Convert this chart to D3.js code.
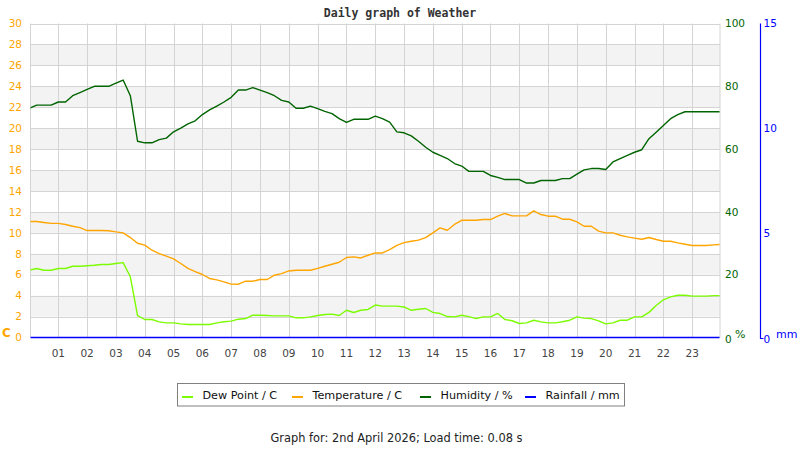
<!DOCTYPE html>
<html>
<head>
<meta charset="utf-8">
<script src="https://cdn.jsdelivr.net/npm/d3@7"></script>
<style>
  html, body { margin: 0; padding: 0; background: #fff; }
  svg { display: block; }
</style>
</head>
<body>
<svg id="chart" width="800" height="450"></svg>
<script>
// ---- data ----
const hours = [0,0.25,0.5,0.75,1,1.25,1.5,1.75,2,2.25,2.5,2.75,3,3.25,3.5,3.75,4,4.25,4.5,4.75,5,5.25,5.5,5.75,6,6.25,6.5,6.75,7,7.25,7.5,7.75,8,8.25,8.5,8.75,9,9.25,9.5,9.75,10,10.25,10.5,10.75,11,11.25,11.5,11.75,12,12.25,12.5,12.75,13,13.25,13.5,13.75,14,14.25,14.5,14.75,15,15.25,15.5,15.75,16,16.25,16.5,16.75,17,17.25,17.5,17.75,18,18.25,18.5,18.75,19,19.25,19.5,19.75,20,20.25,20.5,20.75,21,21.25,21.5,21.75,22,22.25,22.5,22.75,23,23.25,23.5,23.75,23.95];

const humidity = [73,74,74,74,75,75,77,78,79,80,80,80,81,82,77,62.5,62,62,63,63.5,65.5,66.7,68,69,71,72.5,73.7,75,76.5,78.8,78.8,79.6,78.8,78,77,75.5,75,73,73,73.7,72.9,72,71.3,69.7,68.5,69.5,69.5,69.5,70.5,69.7,68.6,65.5,65.2,64.2,62.5,60.6,59,58,57,55.4,54.6,52.9,52.9,52.9,51.6,51,50.3,50.3,50.3,49.2,49.2,50,50,50,50.6,50.6,52,53.4,53.8,53.8,53.5,55.9,57,58,59,59.8,63.3,65.4,67.5,69.7,71,71.9,71.9,71.9,71.9,71.9,71.9];

const temperature = [11.08,11.08,10.99,10.9,10.9,10.8,10.63,10.5,10.22,10.22,10.22,10.2,10.09,10.0,9.55,9.0,8.82,8.34,8.02,7.77,7.51,7.07,6.6,6.3,6.02,5.64,5.5,5.31,5.1,5.09,5.38,5.38,5.54,5.54,5.95,6.1,6.36,6.43,6.43,6.43,6.6,6.81,7.0,7.19,7.64,7.7,7.6,7.86,8.08,8.08,8.4,8.8,9.07,9.2,9.3,9.55,10.0,10.47,10.25,10.8,11.2,11.2,11.2,11.27,11.27,11.59,11.85,11.62,11.62,11.62,12.1,11.75,11.59,11.59,11.3,11.3,11.05,10.63,10.63,10.16,10.0,10.0,9.77,9.61,9.5,9.39,9.55,9.36,9.2,9.2,9.04,8.91,8.79,8.79,8.79,8.85,8.88];

const dewPoint = [6.43,6.59,6.43,6.43,6.59,6.59,6.81,6.81,6.85,6.9,6.97,6.97,7.07,7.15,5.8,2.1,1.72,1.72,1.49,1.4,1.4,1.3,1.24,1.24,1.24,1.24,1.4,1.5,1.56,1.75,1.81,2.13,2.13,2.1,2.07,2.07,2.07,1.88,1.88,1.97,2.1,2.2,2.23,2.1,2.6,2.39,2.6,2.68,3.1,3.0,3.0,3.0,2.92,2.6,2.7,2.77,2.4,2.29,2.0,1.97,2.13,2.0,1.81,1.97,1.97,2.3,1.72,1.6,1.34,1.4,1.65,1.49,1.4,1.4,1.5,1.65,1.97,1.85,1.81,1.59,1.3,1.4,1.65,1.65,1.97,1.97,2.4,3.05,3.6,3.88,4.04,4.04,3.95,3.95,3.95,4.0,4.0];

const rainfall = [0,0];
const rainHours = [0,23.95];

const hourLabels = ["01","02","03","04","05","06","07","08","09","10","11","12","13","14","15","16","17","18","19","20","21","22","23"];
const tempTicks = [0,2,4,6,8,10,12,14,16,18,20,22,24,26,28,30];
const humTicks = [0,20,40,60,80,100];
const rainTicks = [0,5,10,15];
const legendItems = ["Dew Point / C","Temperature / C","Humidity / %","Rainfall / mm"];
const titleText = "Daily graph of Weather";
const footerText = "Graph for: 2nd April 2026; Load time: 0.08 s";

// ---- drawing ----
const colors = { dew: "#7cfc00", temp: "#ffa500", hum: "#006400", rain: "#0000ff" };
const svg = d3.select("#chart");
const L = 30.5, R = 720, T = 23.5, B = 337.5;

const x = d3.scaleLinear().domain([0, 24]).range([29.5, 721]);
const yT = d3.scaleLinear().domain([0, 30]).range([B, T]);
const yH = d3.scaleLinear().domain([0, 100]).range([B, T]);
const yR = d3.scaleLinear().domain([0, 15]).range([B, T]);

svg.append("defs").append("clipPath").attr("id", "clip")
  .append("rect").attr("x", L).attr("y", T - 2).attr("width", R - L).attr("height", B - T + 4);

// bands
const bands = tempTicks.filter(v => v < 30 && (v / 2) % 2 === 1);
svg.append("g").selectAll("rect").data(bands).join("rect")
  .attr("x", L).attr("width", R - L)
  .attr("y", d => yT(d + 2)).attr("height", d => yT(d) - yT(d + 2))
  .attr("fill", "#f3f3f3");

// grid
const grid = svg.append("g").attr("stroke", "#d4d4d4").attr("stroke-width", 1);
grid.selectAll("line.h").data(tempTicks.filter(v => v > 0)).join("line")
  .attr("x1", L).attr("x2", R).attr("y1", d => Math.round(yT(d)) + 0.5).attr("y2", d => Math.round(yT(d)) + 0.5);
grid.selectAll("line.v").data(hourLabels).join("line")
  .attr("x1", (d) => Math.round(x(+d)) + 0.5).attr("x2", (d) => Math.round(x(+d)) + 0.5)
  .attr("y1", T).attr("y2", B);
grid.append("line").attr("x1", L).attr("x2", L).attr("y1", T).attr("y2", B);
grid.append("line").attr("x1", R).attr("x2", R).attr("y1", T).attr("y2", B);

// lines
const plot = svg.append("g").attr("clip-path", "url(#clip)");
function drawLine(vals, times, scale, color, w) {
  const line = d3.line().x((d, i) => x(times[i])).y(d => scale(d));
  plot.append("path").datum(vals).attr("d", line)
    .attr("fill", "none").attr("stroke", color).attr("stroke-width", w)
    .attr("stroke-linejoin", "round");
}
drawLine(dewPoint, hours, yT, colors.dew, 1.4);
drawLine(temperature, hours, yT, colors.temp, 1.4);
drawLine(humidity, hours, yH, colors.hum, 1.4);
drawLine(rainfall, rainHours, yR, colors.rain, 1.6);

// left axis
const fontSans = "DejaVu Sans, sans-serif";
svg.append("g").selectAll("text").data(tempTicks).join("text")
  .attr("x", 22).attr("y", d => yT(d)).attr("dy", "0.36em")
  .attr("text-anchor", "end").attr("font-family", fontSans).attr("font-size", 10.5)
  .attr("fill", colors.temp).text(d => d);
svg.append("text").attr("x", 2).attr("y", 337).attr("font-family", fontSans)
  .attr("font-size", 12).attr("font-weight", "bold").attr("fill", colors.temp).text("C");

// humidity axis
svg.append("g").selectAll("text").data(humTicks).join("text")
  .attr("x", 725).attr("y", d => yH(d) + (d === 0 ? 2 : 0)).attr("dy", "0.36em")
  .attr("font-family", fontSans).attr("font-size", 10.5)
  .attr("fill", colors.hum).text(d => d);
svg.append("text").attr("x", 735).attr("y", 338).attr("font-family", fontSans)
  .attr("font-size", 11).attr("fill", colors.hum).text("%");

// rain axis
const rx = 760.5;
svg.append("path").attr("d", `M${rx},${T} L${rx},${B + 1} L${rx + 3},${B + 1}`)
  .attr("fill", "none").attr("stroke", colors.rain).attr("stroke-width", 1.2);
svg.append("g").selectAll("text").data(rainTicks).join("text")
  .attr("x", 763.5).attr("y", d => yR(d) + (d === 0 ? 2 : 0)).attr("dy", "0.36em")
  .attr("font-family", fontSans).attr("font-size", 10.5)
  .attr("fill", colors.rain).text(d => d);
svg.append("text").attr("x", 776).attr("y", 338).attr("font-family", fontSans)
  .attr("font-size", 11).attr("fill", colors.rain).text("mm");

// x labels
svg.append("g").selectAll("text").data(hourLabels).join("text")
  .attr("x", d => x(+d)).attr("y", 353).attr("dy", "0.36em")
  .attr("text-anchor", "middle").attr("font-family", fontSans).attr("font-size", 10.5)
  .attr("fill", "#444").text(d => d);

// title
svg.append("text").attr("x", 400).attr("y", 17).attr("text-anchor", "middle")
  .attr("font-family", "DejaVu Sans Mono, monospace").attr("font-weight", "bold")
  .attr("font-size", 11.5).attr("fill", "#333").text(titleText);

// legend
const lg = svg.append("g");
lg.append("rect").attr("x", 177.5).attr("y", 383.5).attr("width", 447).attr("height", 22.5)
  .attr("fill", "#fff").attr("stroke", "#808080");
const legendColors = [colors.dew, colors.temp, colors.hum, colors.rain];
const swatchX = [182, 292, 420, 525];
const item = lg.selectAll("g").data(legendItems).join("g");
item.append("line").attr("x1", (d, i) => swatchX[i]).attr("x2", (d, i) => swatchX[i] + 11)
  .attr("y1", 397).attr("y2", 397).attr("stroke", (d, i) => legendColors[i]).attr("stroke-width", 2);
item.append("text").attr("x", (d, i) => swatchX[i] + 20.5).attr("y", 395).attr("dy", "0.36em")
  .attr("font-family", fontSans).attr("font-size", 11.2).attr("fill", "#111").text(d => d);

// footer
svg.append("text").attr("x", 396.5).attr("y", 438).attr("dy", "0.36em").attr("text-anchor", "middle")
  .attr("font-family", fontSans).attr("font-size", 11.4).attr("fill", "#222").text(footerText);
</script>
</body>
</html>
